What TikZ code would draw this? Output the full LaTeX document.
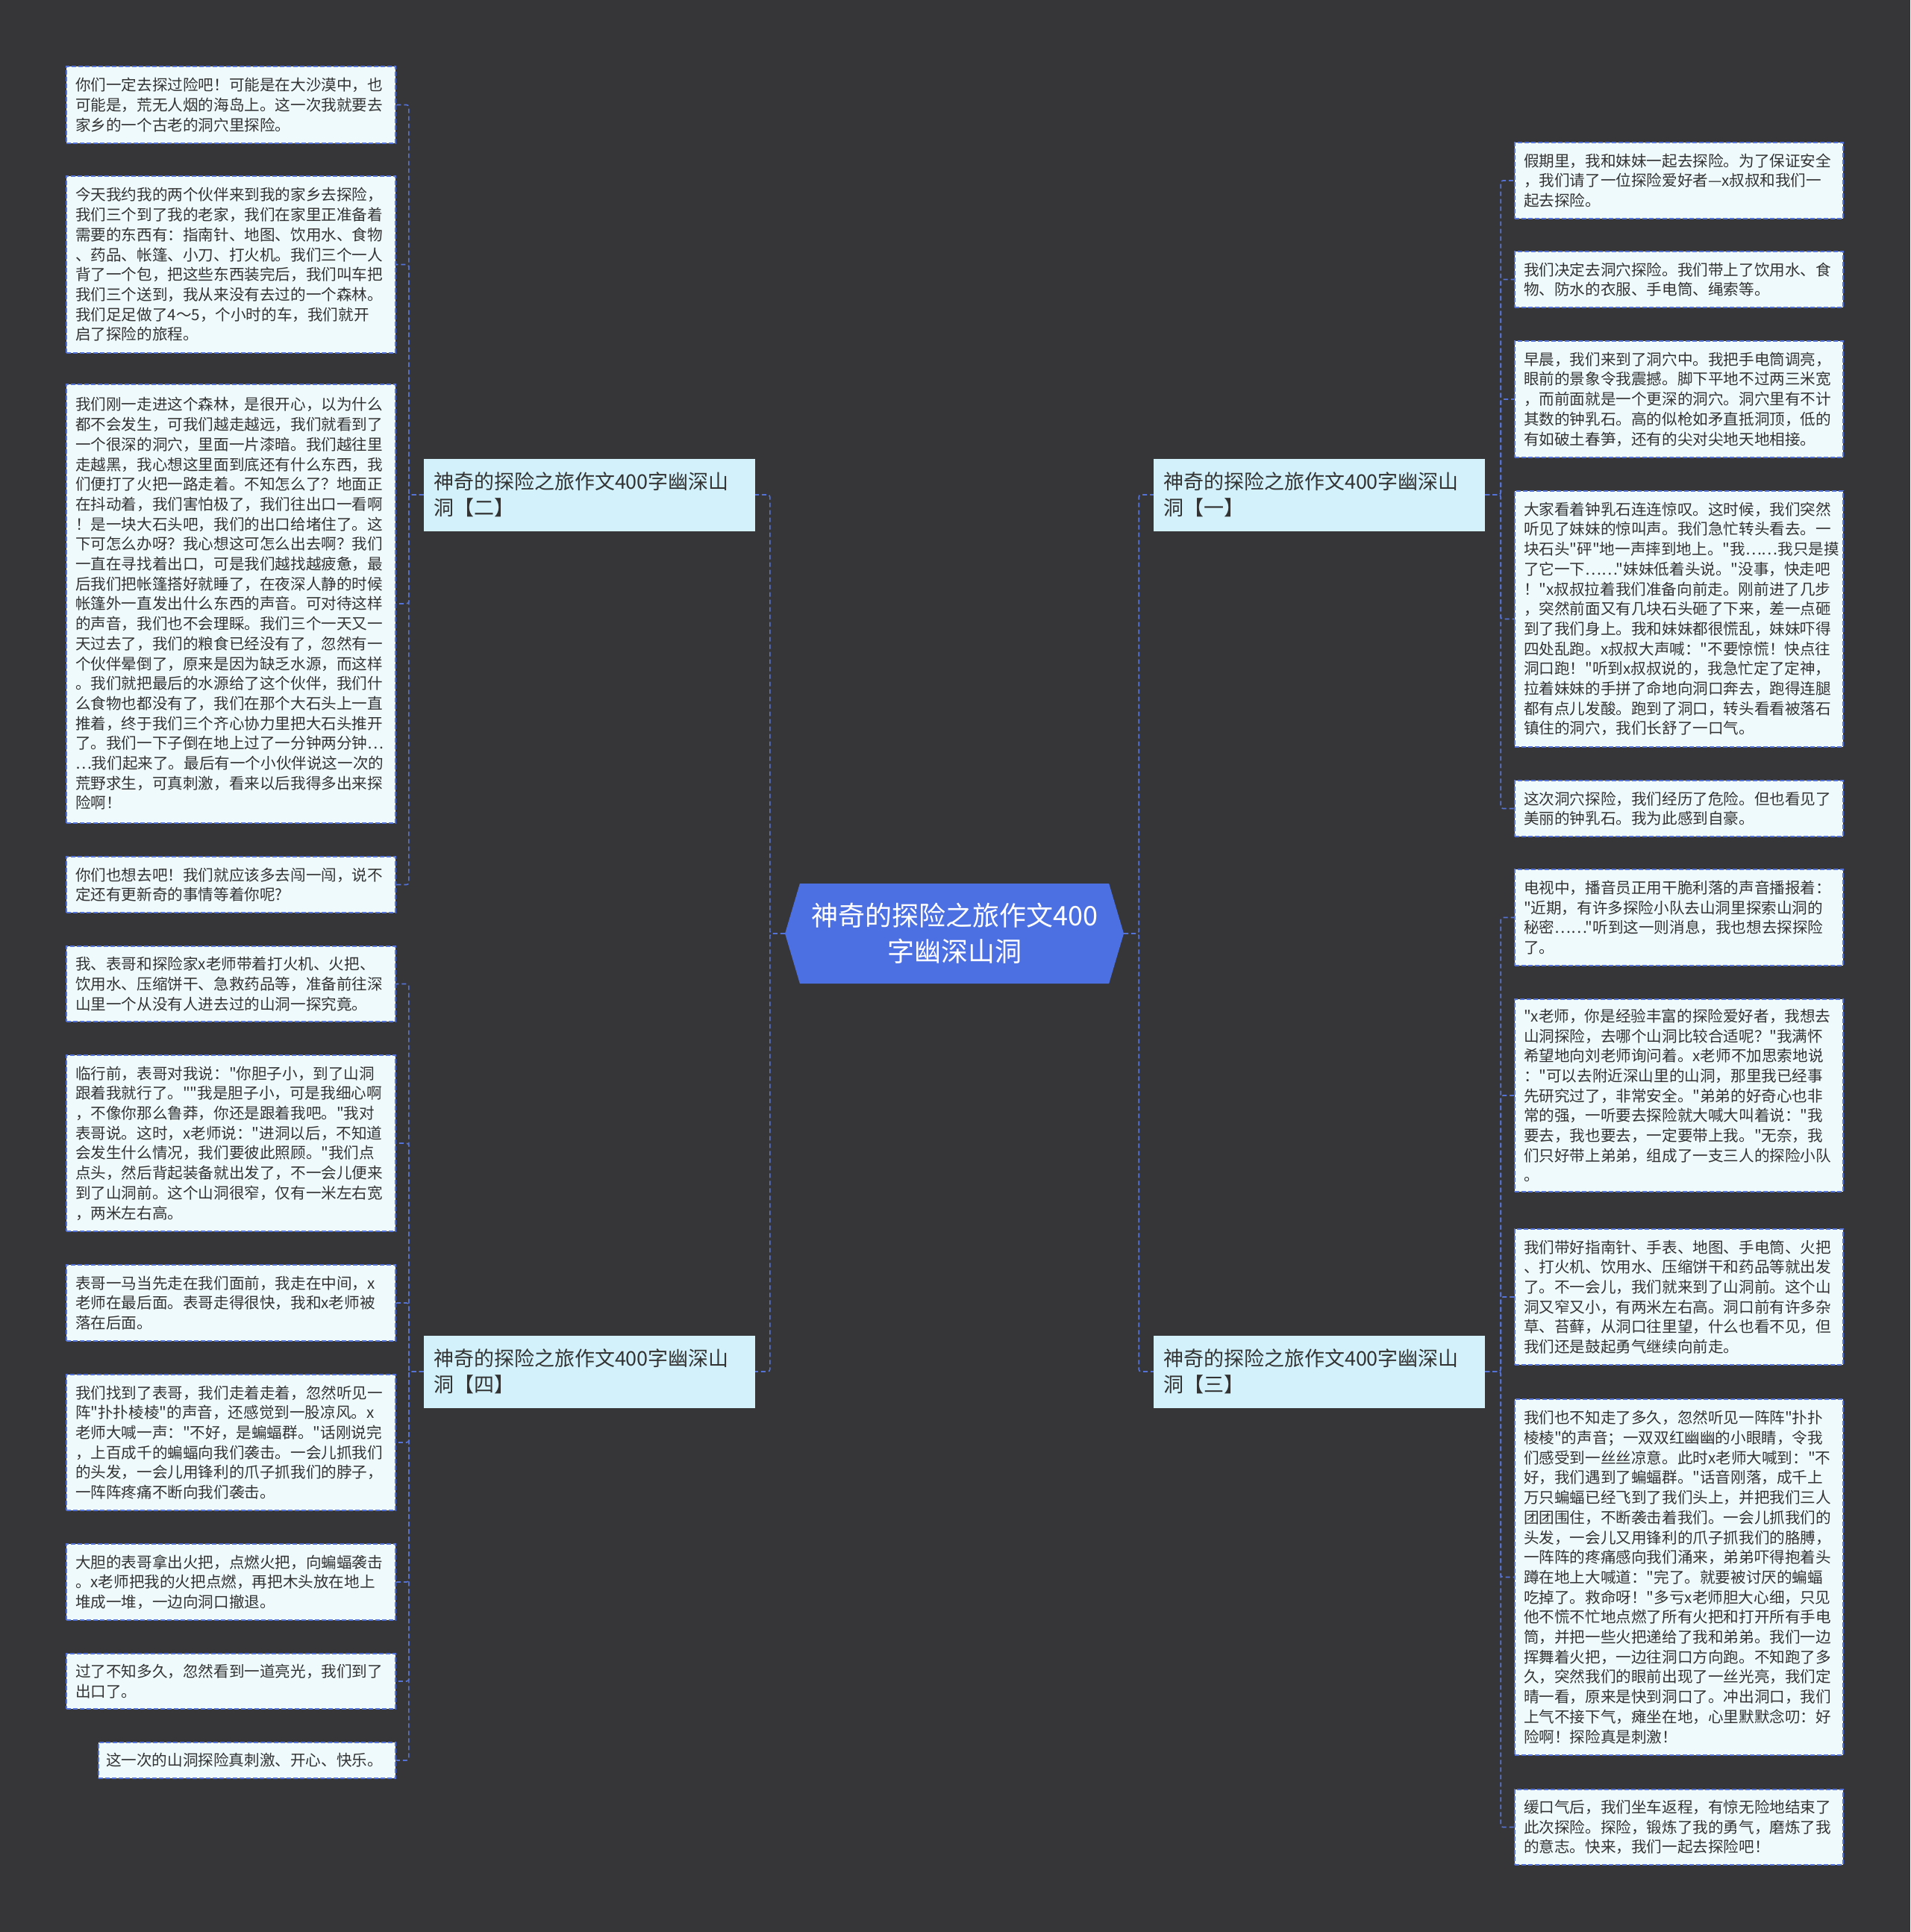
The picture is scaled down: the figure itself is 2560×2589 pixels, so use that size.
\documentclass[tikz,border=0pt]{standalone}
\usepackage{fontspec}
\setmainfont{Noto Sans CJK SC}[Ligatures=TeXOff]
\usetikzlibrary{shapes.symbols}
\definecolor{bgdark}{HTML}{363638}
\definecolor{rootblue}{HTML}{4C6FE2}
\definecolor{branchcyan}{HTML}{D2F1FA}
\definecolor{leafcyan}{HTML}{EFFAFD}
\definecolor{linkblue}{HTML}{5573D6}
\definecolor{inkgray}{HTML}{333333}

\begin{document}
\begin{tikzpicture}[x=1pt, y=-1pt,
    root/.style={signal, signal to=west and east, signal pointer angle=147, fill=rootblue, text=white, align=center,
        minimum width=454pt, minimum height=134pt, inner sep=0pt, font=\fontsize{36}{48}\selectfont},
    branch/.style={fill=branchcyan, text=inkgray, text width=418pt, inner xsep=13pt, inner ysep=0pt,
        minimum height=97pt, align=left, font=\fontsize{27}{35}\selectfont},
    leaf/.style={draw=linkblue, line width=1.4pt, dash pattern=on 6pt off 3pt, fill=leafcyan, text=inkgray,
        inner xsep=12pt, inner ysep=0pt, align=left, font=\fontsize{20.6}{26.7}\selectfont},
    lleaf/.style={leaf, text width=417pt},
    rleaf/.style={leaf, text width=416pt},
    link/.style={draw=linkblue, line width=1.6pt, dash pattern=on 6pt off 4pt, rounded corners=3pt}]

    \fill[bgdark] (0,0) rectangle (2560,2589);

    % centre and the four parts
    \node[root] (root) at (1279,1251) {神奇的探险之旅作文400\\字幽深山洞};
    \node[branch] (b2) at (790,663) {神奇的探险之旅作文400字幽深山\\洞【二】};
    \node[branch] (b4) at (790,1838) {神奇的探险之旅作文400字幽深山\\洞【四】};
    \node[branch] (b1) at (1768,663) {神奇的探险之旅作文400字幽深山\\洞【一】};
    \node[branch] (b3) at (1768,1838) {神奇的探险之旅作文400字幽深山\\洞【三】};

    % left, part two
    \node[lleaf, minimum height=103pt] (l1) at (309.5,140.5) {你们一定去探过险吧！可能是在大沙漠中，也\\可能是，荒无人烟的海岛上。这一次我就要去\\家乡的一个古老的洞穴里探险。};
    \node[lleaf, minimum height=237pt] (l2) at (309.5,354.5) {今天我约我的两个伙伴来到我的家乡去探险，\\我们三个到了我的老家，我们在家里正准备着\\需要的东西有：指南针、地图、饮用水、食物\\、药品、帐篷、小刀、打火机。我们三个一人\\背了一个包，把这些东西装完后，我们叫车把\\我们三个送到，我从来没有去过的一个森林。\\我们足足做了4～5，个小时的车，我们就开\\启了探险的旅程。};
    \node[lleaf, minimum height=588pt] (l3) at (309.5,809) {我们刚一走进这个森林，是很开心，以为什么\\都不会发生，可我们越走越远，我们就看到了\\一个很深的洞穴，里面一片漆暗。我们越往里\\走越黑，我心想这里面到底还有什么东西，我\\们便打了火把一路走着。不知怎么了？地面正\\在抖动着，我们害怕极了，我们往出口一看啊\\！是一块大石头吧，我们的出口给堵住了。这\\下可怎么办呀？我心想这可怎么出去啊？我们\\一直在寻找着出口，可是我们越找越疲惫，最\\后我们把帐篷搭好就睡了，在夜深人静的时候\\帐篷外一直发出什么东西的声音。可对待这样\\的声音，我们也不会理睬。我们三个一天又一\\天过去了，我们的粮食已经没有了，忽然有一\\个伙伴晕倒了，原来是因为缺乏水源，而这样\\。我们就把最后的水源给了这个伙伴，我们什\\么食物也都没有了，我们在那个大石头上一直\\推着，终于我们三个齐心协力里把大石头推开\\了。我们一下子倒在地上过了一分钟两分钟…\\…我们起来了。最后有一个小伙伴说这一次的\\荒野求生，可真刺激，看来以后我得多出来探\\险啊！};
    \node[lleaf, minimum height=75pt] (l4) at (309.5,1185.5) {你们也想去吧！我们就应该多去闯一闯，说不\\定还有更新奇的事情等着你呢?};

    % left, part four
    \node[lleaf, minimum height=101pt] (l5) at (309.5,1318.5) {我、表哥和探险家x老师带着打火机、火把、\\饮用水、压缩饼干、急救药品等，准备前往深\\山里一个从没有人进去过的山洞一探究竟。};
    \node[lleaf, minimum height=236pt] (l6) at (309.5,1532) {临行前，表哥对我说："你胆子小，到了山洞\\跟着我就行了。""我是胆子小，可是我细心啊\\，不像你那么鲁莽，你还是跟着我吧。"我对\\表哥说。这时，x老师说："进洞以后，不知道\\会发生什么情况，我们要彼此照顾。"我们点\\点头，然后背起装备就出发了，不一会儿便来\\到了山洞前。这个山洞很窄，仅有一米左右宽\\，两米左右高。};
    \node[lleaf, minimum height=102pt] (l7) at (309.5,1746) {表哥一马当先走在我们面前，我走在中间，x\\老师在最后面。表哥走得很快，我和x老师被\\落在后面。};
    \node[lleaf, minimum height=182pt] (l8) at (309.5,1933) {我们找到了表哥，我们走着走着，忽然听见一\\阵"扑扑棱棱"的声音，还感觉到一股凉风。x\\老师大喊一声："不好，是蝙蝠群。"话刚说完\\，上百成千的蝙蝠向我们袭击。一会儿抓我们\\的头发，一会儿用锋利的爪子抓我们的脖子，\\一阵阵疼痛不断向我们袭击。};
    \node[lleaf, minimum height=102pt] (l9) at (309.5,2120) {大胆的表哥拿出火把，点燃火把，向蝙蝠袭击\\。x老师把我的火把点燃，再把木头放在地上\\堆成一堆，一边向洞口撤退。};
    \node[lleaf, minimum height=74pt] (l10) at (309.5,2253) {过了不知多久，忽然看到一道亮光，我们到了\\出口了。};
    \node[leaf, text width=378pt, inner xsep=10pt, minimum height=48pt] (l11) at (331,2359) {这一次的山洞探险真刺激、开心、快乐。};

    % right, part one
    \node[rleaf, minimum height=102pt] (r1) at (2250,242) {假期里，我和妹妹一起去探险。为了保证安全\\，我们请了一位探险爱好者—x叔叔和我们一\\起去探险。};
    \node[rleaf, minimum height=75pt] (r2) at (2250,374.5) {我们决定去洞穴探险。我们带上了饮用水、食\\物、防水的衣服、手电筒、绳索等。};
    \node[rleaf, minimum height=156pt] (r3) at (2250,535) {早晨，我们来到了洞穴中。我把手电筒调亮，\\眼前的景象令我震撼。脚下平地不过两三米宽\\，而前面就是一个更深的洞穴。洞穴里有不计\\其数的钟乳石。高的似枪如矛直抵洞顶，低的\\有如破土春笋，还有的尖对尖地天地相接。};
    \node[rleaf, minimum height=343pt] (r4) at (2250,829.5) {大家看着钟乳石连连惊叹。这时候，我们突然\\听见了妹妹的惊叫声。我们急忙转头看去。一\\块石头"砰"地一声摔到地上。"我……我只是摸\\了它一下……"妹妹低着头说。"没事，快走吧\\！"x叔叔拉着我们准备向前走。刚前进了几步\\，突然前面又有几块石头砸了下来，差一点砸\\到了我们身上。我和妹妹都很慌乱，妹妹吓得\\四处乱跑。x叔叔大声喊："不要惊慌！快点往\\洞口跑！"听到x叔叔说的，我急忙定了定神，\\拉着妹妹的手拼了命地向洞口奔去，跑得连腿\\都有点儿发酸。跑到了洞口，转头看看被落石\\镇住的洞穴，我们长舒了一口气。};
    \node[rleaf, minimum height=75pt] (r5) at (2250,1083.5) {这次洞穴探险，我们经历了危险。但也看见了\\美丽的钟乳石。我为此感到自豪。};

    % right, part three
    \node[rleaf, minimum height=129pt] (r6) at (2250,1229.5) {电视中，播音员正用干脆利落的声音播报着：\\"近期，有许多探险小队去山洞里探索山洞的\\秘密……"听到这一则消息，我也想去探探险\\了。};
    \node[rleaf, minimum height=258pt] (r7) at (2250,1468) {"x老师，你是经验丰富的探险爱好者，我想去\\山洞探险，去哪个山洞比较合适呢？"我满怀\\希望地向刘老师询问着。x老师不加思索地说\\："可以去附近深山里的山洞，那里我已经事\\先研究过了，非常安全。"弟弟的好奇心也非\\常的强，一听要去探险就大喊大叫着说："我\\要去，我也要去，一定要带上我。"无奈，我\\们只好带上弟弟，组成了一支三人的探险小队\\。};
    \node[rleaf, minimum height=182pt] (r8) at (2250,1738) {我们带好指南针、手表、地图、手电筒、火把\\、打火机、饮用水、压缩饼干和药品等就出发\\了。不一会儿，我们就来到了山洞前。这个山\\洞又窄又小，有两米左右高。洞口前有许多杂\\草、苔藓，从洞口往里望，什么也看不见，但\\我们还是鼓起勇气继续向前走。};
    \node[rleaf, minimum height=477pt] (r9) at (2250,2113.5) {我们也不知走了多久，忽然听见一阵阵"扑扑\\棱棱"的声音；一双双红幽幽的小眼睛，令我\\们感受到一丝丝凉意。此时x老师大喊到："不\\好，我们遇到了蝙蝠群。"话音刚落，成千上\\万只蝙蝠已经飞到了我们头上，并把我们三人\\团团围住，不断袭击着我们。一会儿抓我们的\\头发，一会儿又用锋利的爪子抓我们的胳膊，\\一阵阵的疼痛感向我们涌来，弟弟吓得抱着头\\蹲在地上大喊道："完了。就要被讨厌的蝙蝠\\吃掉了。救命呀！"多亏x老师胆大心细，只见\\他不慌不忙地点燃了所有火把和打开所有手电\\筒，并把一些火把递给了我和弟弟。我们一边\\挥舞着火把，一边往洞口方向跑。不知跑了多\\久，突然我们的眼前出现了一丝光亮，我们定\\晴一看，原来是快到洞口了。冲出洞口，我们\\上气不接下气，瘫坐在地，心里默默念叨：好\\险啊！探险真是刺激！};
    \node[rleaf, minimum height=101pt] (r10) at (2250,2448.5) {缓口气后，我们坐车返程，有惊无险地结束了\\此次探险。探险，锻炼了我的勇气，磨炼了我\\的意志。快来，我们一起去探险吧！};

    % connectors
    \foreach \n in {b2,b4} \draw[link] (root.west) -- ++(-20,0) |- (\n.east);
    \foreach \n in {b1,b3} \draw[link] (root.east) -- ++(20,0) |- (\n.west);
    \foreach \n in {l1,l2,l3,l4} \draw[link] (b2.west) -- ++(-20,0) |- (\n.east);
    \foreach \n in {l5,l6,l7,l8,l9,l10,l11} \draw[link] (b4.west) -- ++(-20,0) |- (\n.east);
    \foreach \n in {r1,r2,r3,r4,r5} \draw[link] (b1.east) -- ++(21,0) |- (\n.west);
    \foreach \n in {r6,r7,r8,r9,r10} \draw[link] (b3.east) -- ++(21,0) |- (\n.west);
\end{tikzpicture}
\end{document}
